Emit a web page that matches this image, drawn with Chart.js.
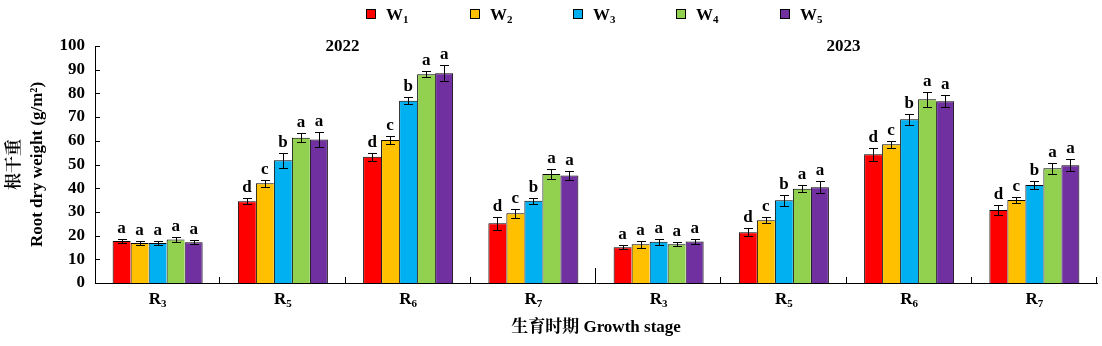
<!DOCTYPE html>
<html><head><meta charset="utf-8">
<script src="https://cdn.jsdelivr.net/npm/chart.js@4.4.1/dist/chart.umd.min.js"></script>
<style>html,body{margin:0;padding:0;background:#fff;} canvas{display:block;}</style>
</head><body>
<canvas id="c" width="1102" height="346"></canvas>
<script>
// ---- data ----
const stages = ['R3','R5','R6','R7','R3','R5','R6','R7'];
const years = ['2022','2023'];
const seriesNames = ['W1','W2','W3','W4','W5'];
const seriesColors = ['#FF0000','#FFC000','#00B0F0','#92D050','#7030A0'];
const W1 = [17.7, 34.5, 53.3, 25.2, 15.1, 21.4, 54.3, 30.8];
const W2 = [16.9, 42.1, 60.3, 29.4, 16.3, 26.5, 58.5, 35.0];
const W3 = [16.9, 51.8, 76.9, 34.7, 17.4, 34.9, 69.1, 41.4];
const W4 = [18.4, 61.3, 88.1, 46.0, 16.3, 39.8, 77.5, 48.4];
const W5 = [17.2, 60.6, 88.5, 45.4, 17.5, 40.4, 76.7, 49.7];
const W1err = [0.8, 1.2, 1.7, 2.7, 0.8, 1.6, 2.8, 2.0];
const W2err = [0.7, 1.5, 1.6, 1.9, 1.4, 1.3, 1.4, 1.3];
const W3err = [0.7, 3.2, 1.4, 1.3, 1.2, 2.3, 2.4, 1.6];
const W4err = [1.0, 1.9, 1.2, 2.1, 0.8, 1.5, 3.2, 2.3];
const W5err = [0.8, 3.2, 3.4, 1.8, 1.2, 2.5, 2.5, 2.6];
const W1sig = ['a','d','d','d','a','d','d','d'];
const W2sig = ['a','c','c','c','a','c','c','c'];
const W3sig = ['a','b','b','b','a','b','b','b'];
const W4sig = ['a','a','a','a','a','a','a','a'];
const W5sig = ['a','a','a','a','a','a','a','a'];
const yTitle = ['根干重', 'Root dry weight (g/m²)'];
const xTitle = '生育时期 Growth stage';

const values = [W1, W2, W3, W4, W5];
const errors = [W1err, W2err, W3err, W4err, W5err];
const sigs = [W1sig, W2sig, W3sig, W4sig, W5sig];

const FONT = "'Liberation Serif','Noto Serif CJK SC','Noto Sans CJK SC',serif";

function drawSub(ctx, base, sub, x, y, size, subSize, align) {
  ctx.font = 'bold ' + size + 'px ' + FONT;
  const wb = ctx.measureText(base).width;
  ctx.font = 'bold ' + subSize + 'px ' + FONT;
  const ws = ctx.measureText(sub).width;
  const total = wb + ws;
  let x0 = align === 'center' ? x - total / 2 : x;
  ctx.textAlign = 'left';
  ctx.textBaseline = 'alphabetic';
  ctx.font = 'bold ' + size + 'px ' + FONT;
  ctx.fillText(base, x0, y);
  ctx.font = 'bold ' + subSize + 'px ' + FONT;
  ctx.fillText(sub, x0 + wb, y + 3);
}

const decor = {
  id: 'decor',
  afterDatasetsDraw(chart) {
    const ctx = chart.ctx, ys = chart.scales.y;
    ctx.save();
    ctx.strokeStyle = '#000';
    ctx.fillStyle = '#000';
    ctx.lineWidth = 1;
    chart.data.datasets.forEach((ds, di) => {
      const meta = chart.getDatasetMeta(di);
      meta.data.forEach((el, i) => {
        const v = ds.data[i], e = errors[di][i];
        const x = Math.round(el.x) + 0.5;
        const yt = Math.round(ys.getPixelForValue(v + e)) + 0.5;
        const yb = Math.round(ys.getPixelForValue(v - e)) + 0.5;
        ctx.beginPath();
        ctx.moveTo(x, yt); ctx.lineTo(x, yb);
        ctx.moveTo(x - 4.5, yt); ctx.lineTo(x + 4.5, yt);
        ctx.moveTo(x - 4.5, yb); ctx.lineTo(x + 4.5, yb);
        ctx.stroke();
        ctx.font = 'bold 17px ' + FONT;
        ctx.textAlign = 'center';
        ctx.textBaseline = 'alphabetic';
        ctx.fillText(sigs[di][i], el.x, yt - 7);
      });
    });
    ctx.restore();
  },
  afterDraw(chart) {
    const ctx = chart.ctx, xs = chart.scales.x, ys = chart.scales.y;
    const area = chart.chartArea;
    ctx.save();
    ctx.strokeStyle = '#000';
    ctx.fillStyle = '#000';
    ctx.lineWidth = 1;
    // inward y ticks
    ctx.beginPath();
    ys.ticks.forEach(t => {
      const y = Math.round(ys.getPixelForValue(t.value)) + 0.5;
      ctx.moveTo(area.left, y); ctx.lineTo(area.left + 5, y);
    });
    // inward x separators
    const half = (xs.getPixelForValue(1) - xs.getPixelForValue(0)) / 2;
    for (let k = 0; k < stages.length; k++) {
      const x = Math.round(xs.getPixelForValue(k) + half) - 0.5;
      const h = (k === 3) ? 15 : 6;
      ctx.moveTo(x, area.bottom); ctx.lineTo(x, area.bottom - h);
    }
    ctx.stroke();
    // x tick labels with subscript
    stages.forEach((s, i) => {
      drawSub(ctx, s.charAt(0), s.slice(1), xs.getPixelForValue(i), 304, 17, 11, 'center');
    });
    // year labels
    ctx.font = 'bold 17px ' + FONT;
    ctx.textAlign = 'center';
    ctx.textBaseline = 'middle';
    years.forEach((yr, j) => {
      const x = xs.getPixelForValue(j * 4 + 1) + half - 3;
      ctx.fillText(yr, x, 47);
    });
    // legend
    const cx = (area.left + area.right) / 2;
    const step = 103.3;
    seriesNames.forEach((n, i) => {
      const itemC = cx + (i - 2) * step;
      const bx = Math.round(itemC - 23);
      ctx.fillStyle = seriesColors[i];
      ctx.fillRect(bx, 9, 10, 10);
      ctx.strokeStyle = '#000';
      ctx.strokeRect(bx + 0.5, 9.5, 9, 9);
      ctx.fillStyle = '#000';
      drawSub(ctx, n.charAt(0), n.slice(1), bx + 20, 19.5, 17, 11, 'left');
    });
    ctx.restore();
  }
};

const datasets = values.map((v, i) => ({
  label: seriesNames[i],
  data: v,
  backgroundColor: seriesColors[i],
  borderColor: '#000',
  borderWidth: i === values.length - 1 ? {top: 1, left: 1, right: 1, bottom: 0} : {top: 1, left: 1, right: 0, bottom: 0},
  borderSkipped: false,
  barPercentage: 1,
  categoryPercentage: 0.7186
}));

new Chart(document.getElementById('c'), {
  type: 'bar',
  data: { labels: stages, datasets },
  options: {
    responsive: false,
    animation: false,
    devicePixelRatio: 1,
    layout: { padding: { top: 46, right: 5, left: 0, bottom: 0 } },
    plugins: { legend: { display: false }, tooltip: { enabled: false } },
    scales: {
      x: {
        offset: true,
        grid: { display: false, drawTicks: false },
        border: { display: true, color: '#000', width: 1 },
        ticks: { display: false },
        title: { display: true, text: xTitle, color: '#000',
                 font: { family: FONT, size: 17, weight: 'bold' }, padding: { top: 0, bottom: 8 } },
        afterFit(s) { s.height = 63; }
      },
      y: {
        min: 0, max: 100,
        ticks: { stepSize: 10, color: '#000', padding: 10,
                 font: { family: FONT, size: 17, weight: 'bold' } },
        grid: { display: false, drawTicks: false },
        border: { display: true, color: '#000', width: 1 },
        title: { display: true, text: yTitle, color: '#000',
                 font: { family: FONT, size: 17, weight: 'bold', lineHeight: 1.3 }, padding: { top: 4, bottom: 0 } },
        afterFit(s) { s.width = 95; }
      }
    }
  },
  plugins: [decor]
});
</script>
</body></html>
